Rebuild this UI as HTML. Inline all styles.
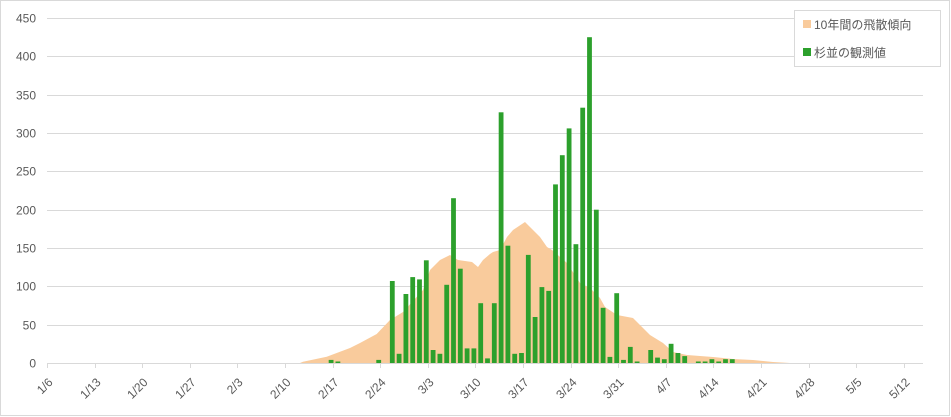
<!DOCTYPE html>
<html><head><meta charset="utf-8"><style>
html,body{margin:0;padding:0;background:#fff}
svg{display:block}
text{font-family:"Liberation Sans","Noto Sans CJK JP",sans-serif;fill:#595959;font-size:12px}
</style></head><body>
<svg id="c" width="951" height="417" xmlns="http://www.w3.org/2000/svg">
<rect x="0.5" y="0.5" width="949" height="415" fill="#fff" stroke="#d9d9d9"/>
<g id="grid" stroke="#d9d9d9" stroke-width="1"></g>
<polygon fill="#f9cb9c" points="300,363 303,361.7 326.7,356.7 350,348 360,343 376.7,334 390,320 403,312 423,290 430,270 440,260 450,255 458,260 472,262 478,267 483,260 490,254 493,252 500,250 507,237 513,230 525,222 530,227 540,237 547,247 552,250 567,263 580,283 590,288 600,298 605,307 617,315 633,318 650,335 663,343 673,352 687,355 713,357 733,359 753,360 773,362 790,363"/>
<g id="bars" fill="#2ca02c"></g>
<g id="ax"></g>
<rect x="794.5" y="10.5" width="146" height="56" fill="#fff" stroke="#d9d9d9"/>
<rect x="803" y="20" width="8" height="8" fill="#f9cb9c"/>
<text x="814" y="29" font-size="13">10年間の飛散傾向</text>
<rect x="803" y="48" width="8" height="8" fill="#2ca02c"/>
<text x="814" y="57" font-size="13">杉並の観測値</text>
</svg>
<script>
var ns="http://www.w3.org/2000/svg",g=document.getElementById('grid'),b=document.getElementById('bars'),a=document.getElementById('ax');
function el(p,t,at,tx){var e=document.createElementNS(ns,t);for(var k in at)e.setAttribute(k,at[k]);if(tx)e.textContent=tx;p.appendChild(e);return e;}
for(var v=0;v<=450;v+=50){var y=Math.round(363-v*0.7667)+0.5;if(v>0)el(g,'line',{x1:47,x2:923,y1:y,y2:y});
el(a,'text',{x:36,y:y+4,'text-anchor':'end'},String(v));}
el(a,'line',{x1:47,x2:923,y1:363.5,y2:363.5,stroke:'#d9d9d9'});
var labs=['1/6','1/13','1/20','1/27','2/3','2/10','2/17','2/24','3/3','3/10','3/17','3/24','3/31','4/7','4/14','4/21','4/28','5/5','5/12'];
for(var i=0;i<labs.length;i++){var x=Math.round(47+47.6*i)+0.5;el(a,'line',{x1:x,x2:x,y1:363,y2:368,stroke:'#d9d9d9'});
var tx=x+6,ty=383;
el(a,'text',{x:tx,y:ty,'text-anchor':'end','font-size':13,transform:'rotate(-45 '+tx+' '+ty+')'},labs[i]);}
var d={42:4,43:2,49:4,51:107,52:12,53:90,54:112,55:109,56:134,57:17,58:12,59:102,60:215,61:123,62:19,63:19,64:78,65:6,66:78,67:327,68:153,69:12,70:13,71:141,72:60,73:99,74:94,75:233,76:271,77:306,78:155,79:333,80:425,81:200,82:72,83:8,84:91,85:4,86:21,87:2,89:17,90:7,91:5,92:25,93:13,94:9,96:2,97:2,98:5,99:2,100:5,101:5};
for(var k in d){var cx=45.5+6.8*k,h=d[k]*0.7667;el(b,'rect',{x:(cx-2.4).toFixed(1),y:(363-h).toFixed(1),width:4.8,height:h.toFixed(1)});}
</script>
</body></html>
